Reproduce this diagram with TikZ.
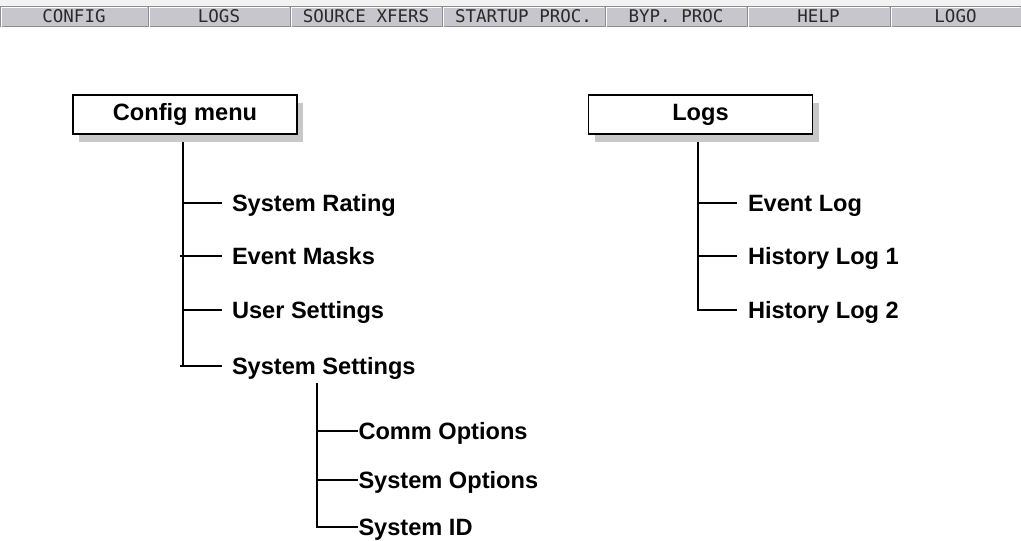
\documentclass[tikz,border=0pt]{standalone}
\usepackage{fontspec}
\setmainfont{Liberation Sans}
\newfontfamily\barfont{DejaVu Sans Mono}
\usetikzlibrary{shadows,backgrounds}
\definecolor{btn}{HTML}{C6C6CC}
\definecolor{btndark}{HTML}{8C8C92}
\definecolor{shd}{HTML}{C8C8C8}
\definecolor{bartext}{HTML}{2A2A2A}
\definecolor{topstrip}{HTML}{F2F2F2}
\begin{document}
\begin{tikzpicture}[x=1pt,y=-1pt,
  menubox/.style={draw=black, line width=1.3pt, fill=white, minimum width=224pt,
    minimum height=39pt, inner sep=0pt, font=\fontsize{23.6}{28}\selectfont\bfseries,
    drop shadow={shadow xshift=6pt, shadow yshift=-7.5pt, fill=shd, opacity=1}},
  item/.style={anchor=west, inner ysep=0pt, outer sep=0pt, text height=16.9pt,
    text depth=0pt, font=\fontsize{23.6}{28}\selectfont\bfseries},
  cfgitem/.style={item, inner xsep=10pt},
  logitem/.style={item, inner xsep=11pt},
  subitem/.style={item, inner xsep=0.5pt},
  tree/.style={line width=2pt},
  barbtn/.style={fill=btn, draw=btndark, line width=1pt, minimum height=20pt,
    inner sep=0pt, outer sep=0pt, text=bartext, font=\barfont\fontsize{17.5}{18}\selectfont},
]
\useasboundingbox (0,0) rectangle (1021,541);

% top menu bar
\node[barbtn, minimum width=148pt] (b1) at (74,16.5) {CONFIG};
\node[barbtn, minimum width=142pt] (b2) at (219,16.5) {LOGS};
\node[barbtn, minimum width=152pt] (b3) at (366,16.5) {SOURCE XFERS};
\node[barbtn, minimum width=163pt] (b4) at (523.5,16.5) {STARTUP PROC.};
\node[barbtn, minimum width=142pt] (b5) at (676,16.5) {BYP. PROC};
\node[barbtn, minimum width=143pt] (b6) at (818.5,16.5) {HELP};
\node[barbtn, minimum width=131pt] (b7) at (955.5,16.5) {LOGO};
\foreach \b in {b1,b2,b3,b4,b5,b6,b7}{
  \draw[white, line width=1.2pt] ([xshift=1.2pt,yshift=-1.2pt]\b.south west) -- ([xshift=1.2pt,yshift=-1.2pt]\b.north west) -- ([xshift=-1.2pt,yshift=-1.2pt]\b.north east);
}

% menu boxes
\node[menubox] (cfg) at (185,114.5) {Config menu};
\node[menubox] (logs) at (700.5,114.5) {Logs};

% config items
\node[cfgitem] (sr) at (222,203) {System Rating};
\node[cfgitem] (em) at (222,256) {Event Masks};
\node[cfgitem] (us) at (222,310) {User Settings};
\node[cfgitem] (ss) at (222,366) {System Settings};
\coordinate (c1) at (183,203);
\coordinate (c2) at (183,256);
\coordinate (c3) at (183,310);
\coordinate (c4) at (183,366);
\coordinate (l1) at (698,203);
\coordinate (l2) at (698,256);
\coordinate (l3) at (698,310);
\begin{pgfonlayer}{background}
\fill[white] (0,0) rectangle (1021,541);
\fill[topstrip] (0,0) rectangle (1021,6);
\draw[tree] (c1 |- cfg.south) -- (c4);
\draw[tree] (l1 |- logs.south) -- (l3);
\end{pgfonlayer}
\draw[tree] (c1) -- (sr.west);
\draw[tree] ([xshift=-3pt]c2) -- (em.west);
\draw[tree] (c3) -- (us.west);
\draw[tree] ([xshift=-3pt]c4) -- (ss.west);

% logs items
\node[logitem] (el) at (737,203) {Event Log};
\node[logitem] (hl1) at (737,256) {History Log 1};
\node[logitem] (hl2) at (737,310) {History Log 2};
\draw[tree] (l1) -- (el.west);
\draw[tree] (l2) -- (hl1.west);
\draw[tree] ([xshift=-1pt]l3) -- (hl2.west);

% system settings subtree
\node[subitem] (co) at (358,431) {Comm Options};
\node[subitem] (so) at (358,480) {System Options};
\node[subitem] (sid) at (358,527) {System ID};
\coordinate (stop) at (317,383);
\coordinate (s1) at (317,431);
\coordinate (s2) at (317,480);
\coordinate (s3) at (317,527);
\draw[tree] (stop) -- (s3);
\draw[tree] (s1) -- (co.west);
\draw[tree] (s2) -- (so.west);
\draw[tree] ([xshift=-1pt]s3) -- (sid.west);
\end{tikzpicture}
\end{document}
